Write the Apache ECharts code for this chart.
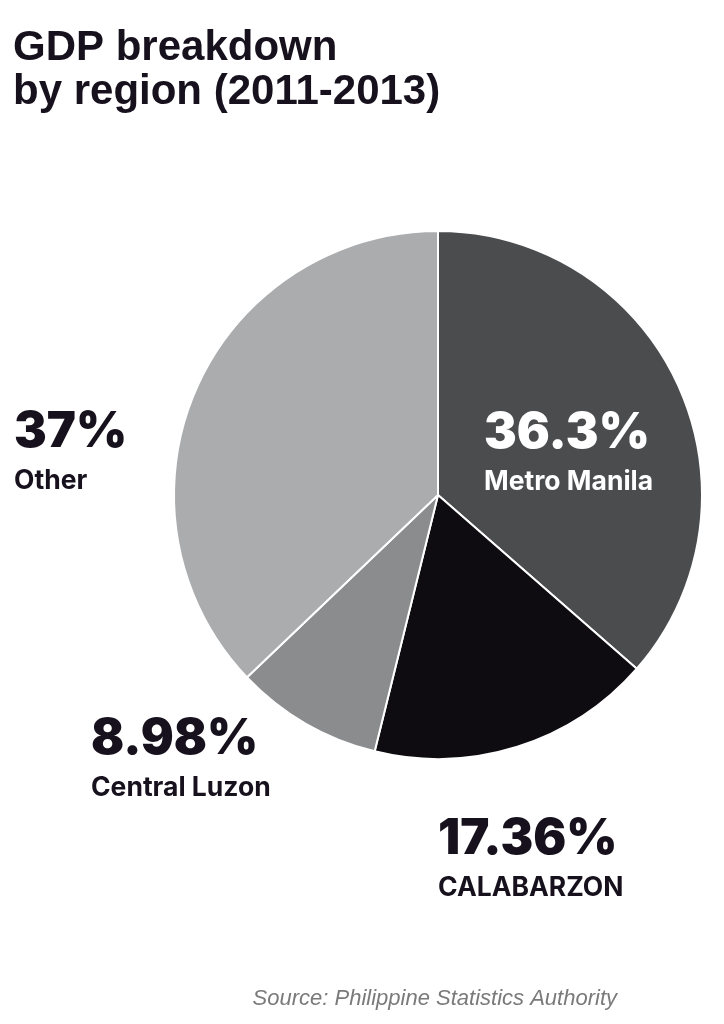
<!DOCTYPE html>
<html>
<head>
<meta charset="utf-8">
<script src="https://cdn.jsdelivr.net/npm/echarts@6/dist/echarts.min.js"></script>
<style>html,body{margin:0;padding:0;background:#fff}#c{width:724px;height:1024px}</style>
</head>
<body>
<div id="c"></div>
<script>
const regions = ['Metro Manila', 'CALABARZON', 'Central Luzon', 'Other'];
const shares = [36.3, 17.36, 8.98, 37];
const sliceColors = ['#4a4c4e', '#0e0c11', '#8a8c8e', '#aaacae'];
const titleLines = ['GDP breakdown', 'by region (2011-2013)'];
const sourceText = 'Source: Philippine Statistics Authority';

// label placement (layout only)
const labelPos = [
  {x: 484, y: 433, color: '#ffffff'},
  {x: 438, y: 839, color: '#16111c'},
  {x: 91, y: 739, color: '#16111c'},
  {x: 14, y: 432, color: '#16111c'}
];

const chart = echarts.init(document.getElementById('c'), null, {renderer: 'canvas'});
const graphics = [];
titleLines.forEach((t, i) => {
  graphics.push({type: 'text', x: 13, y: 48 + i * 44, z: 10,
    style: {text: t, font: 'bold 42px "Liberation Sans", Arial, sans-serif', fill: '#16111c',
      verticalAlign: 'middle', align: 'left'}});
});
regions.forEach((name, i) => {
  const p = labelPos[i];
  graphics.push({type: 'text', x: p.x, y: p.y, z: 10,
    style: {text: String(shares[i]) + '%', font: '900 49px Inter, "Liberation Sans", sans-serif',
      fill: p.color, verticalAlign: 'middle', align: 'left'}});
  graphics.push({type: 'text', x: p.x, y: p.y + 49, z: 10,
    style: {text: name, font: 'bold 26.5px Inter, "Liberation Sans", sans-serif',
      fill: p.color, verticalAlign: 'middle', align: 'left'}});
});
graphics.push({type: 'text', x: 617, y: 999, z: 10,
  style: {text: sourceText, font: 'italic 22px "Liberation Sans Narrow", "Liberation Sans", sans-serif',
    fill: '#7a7a7a', align: 'right', verticalAlign: 'middle'}});

chart.setOption({
  animation: false,
  backgroundColor: '#ffffff',
  graphic: graphics,
  series: [{
    type: 'pie',
    center: [438, 495],
    radius: 264,
    startAngle: 90,
    clockwise: true,
    label: {show: false},
    labelLine: {show: false},
    emphasis: {disabled: true},
    itemStyle: {borderColor: '#ffffff', borderWidth: 2},
    data: regions.map((n, i) => ({name: n, value: shares[i], itemStyle: {color: sliceColors[i]}}))
  }]
});
</script>
</body>
</html>
